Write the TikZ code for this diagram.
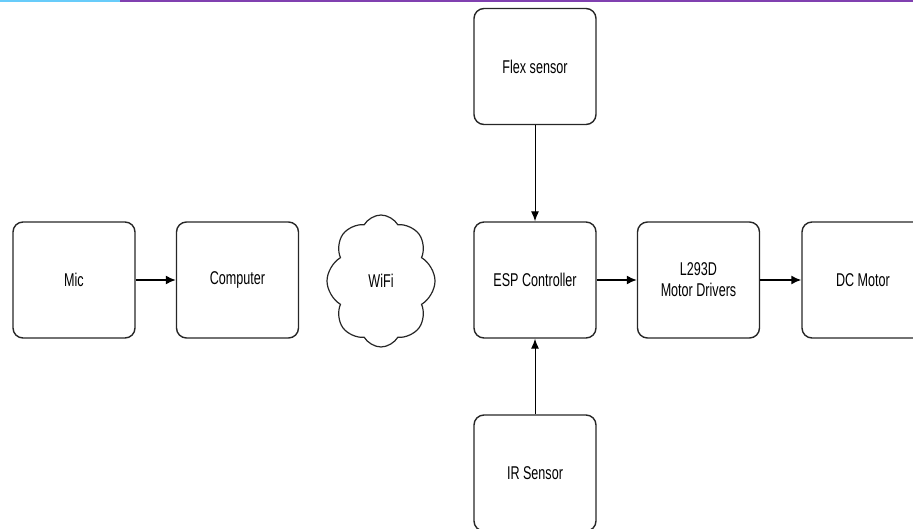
\documentclass[tikz,border=0pt]{standalone}
\usepackage{fontspec}
\setmainfont{Liberation Sans}[FakeStretch=0.68]
\usetikzlibrary{shapes.symbols,arrows.meta}
\definecolor{barcyan}{RGB}{104,204,250}
\definecolor{barpurple}{RGB}{128,64,176}
\begin{document}
\begin{tikzpicture}[x=1pt,y=-1pt,
  blk/.style={draw=black!85,line width=1.4pt,rounded corners=10pt,minimum width=122pt,minimum height=116pt,align=center,font=\fontsize{18.5}{21}\selectfont},
  conn/.style={-{Latex[length=10pt,width=9pt]},line width=1.6pt},
  thinconn/.style={-{Latex[length=10pt,width=8pt]},line width=1pt}]
\useasboundingbox (0,0) rectangle (913,529);
\begin{scope}
\clip (0,0) rectangle (913,529);
% top bar
\fill[barcyan] (0,0) rectangle (120,2.5);
\fill[barpurple] (120,0) rectangle (913,2.5);
% blocks
\node[blk] (mic) at (74,280) {Mic};
\node[blk] (comp) at (237.5,280) {Computer};
\node[cloud,draw=black!85,line width=1.2pt,cloud puffs=8,cloud puff arc=120,minimum width=108pt,minimum height=132pt,aspect=0.8,font=\fontsize{18.5}{21}\selectfont] (wifi) at (381,281) {WiFi};
\node[blk] (esp) at (535,280) {ESP Controller};
\node[blk] (flex) at (535,66.5) {Flex sensor};
\node[blk] (ir) at (535,473) {IR Sensor};
\node[blk] (drv) at (698.5,280) {L293D\\Motor Drivers};
\node[blk] (motor) at (863,280) {DC Motor};
% connectors
\draw[conn] (mic) -- (comp);
\draw[conn] (esp) -- (drv);
\draw[conn] (drv) -- (motor);
\draw[thinconn] (flex) -- (esp);
\draw[thinconn] (ir) -- (esp);
\end{scope}
\end{tikzpicture}
\end{document}
